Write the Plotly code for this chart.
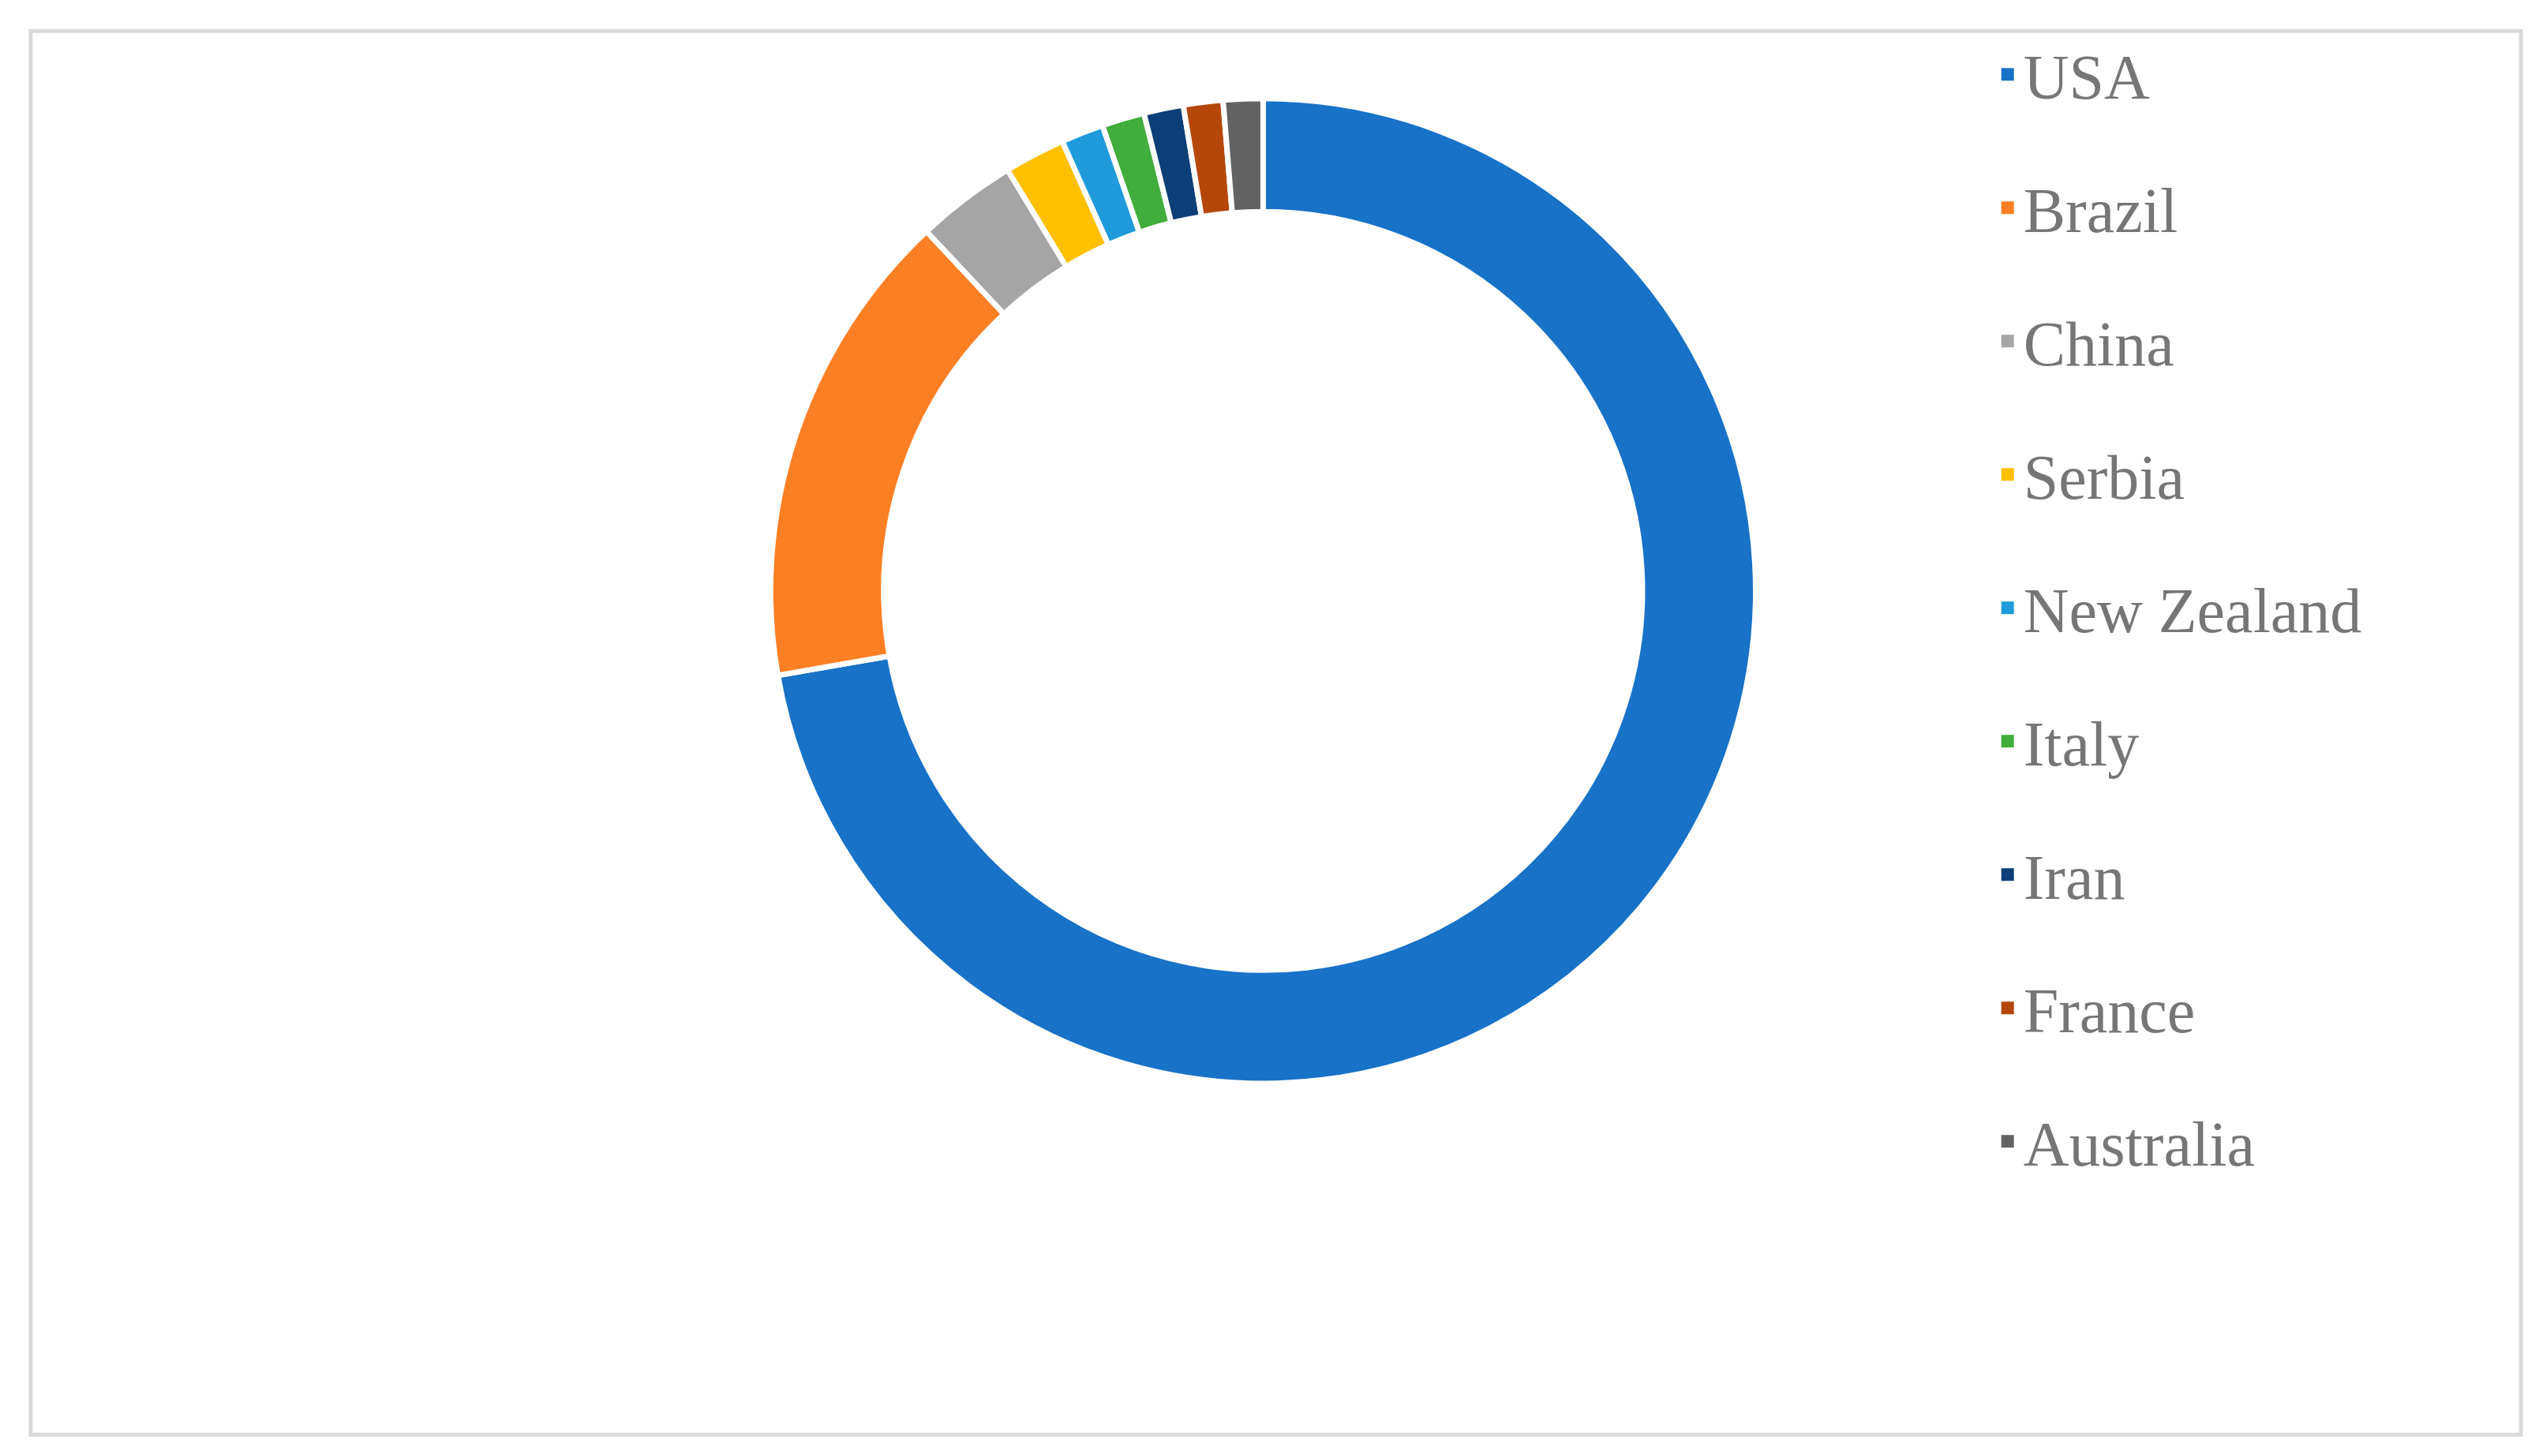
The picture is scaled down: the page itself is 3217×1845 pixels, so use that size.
import plotly.graph_objects as go

countries = ["USA", "Brazil", "China", "Serbia", "New Zealand", "Italy", "Iran", "France", "Australia"]
shares = [72.4, 15.8, 3.3, 2.0, 1.4, 1.4, 1.3, 1.3, 1.3]
colors = ["#1872C8", "#FD7F23", "#A5A5A5", "#FFC000", "#1F9BDB", "#41AD3C", "#0C3F77", "#B5470A", "#636363"]

FONT = "Liberation Serif"

fig = go.Figure()
fig.add_trace(go.Pie(
    labels=countries,
    values=shares,
    hole=0.77,
    sort=False,
    direction="clockwise",
    rotation=0,
    textinfo="none",
    marker=dict(colors=colors, line=dict(color="white", width=7)),
    showlegend=False,
    domain=dict(x=[0.301, 0.689], y=[0.26, 0.937]),
))

# legend entries (one per slice, so the gap between rows can be set)
for name, c in zip(countries, colors):
    fig.add_trace(go.Scatter(
        x=[None], y=[None], mode="markers", name=name, legendgroup=name,
        marker=dict(symbol="square", size=16, color=c),
    ))

fig.update_layout(
    width=3217,
    height=1845,
    margin=dict(l=0, r=0, t=0, b=0),
    paper_bgcolor="white",
    plot_bgcolor="white",
    xaxis=dict(visible=False),
    yaxis=dict(visible=False),
    legend=dict(
        x=0.782, y=0.985, xanchor="left", yanchor="top",
        font=dict(family=FONT, size=80, color="#767676"),
        tracegroupgap=62,
        itemwidth=30,
        bgcolor="rgba(0,0,0,0)",
    ),
    shapes=[dict(type="rect", xref="paper", yref="paper", x0=0.0096, x1=0.9904, y0=0.019, y1=0.983,
                 line=dict(color="#D9D9D9", width=5))],
)

fig.write_html("out.html")
